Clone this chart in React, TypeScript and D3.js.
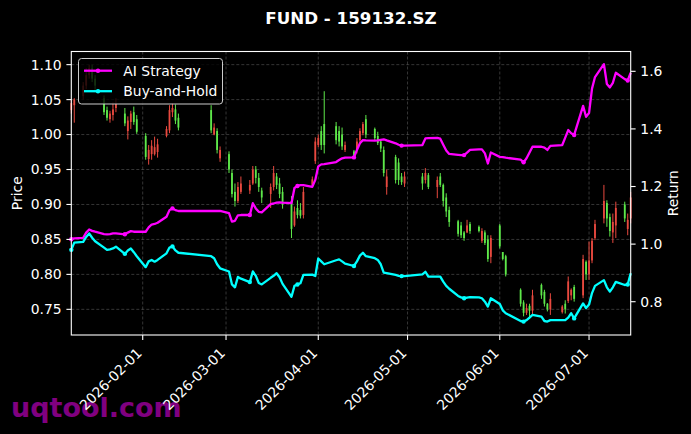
import React from "react";
import * as d3 from "d3";

const dates = [
  "2026-01-08","2026-01-09","2026-01-12","2026-01-13","2026-01-14","2026-01-15","2026-01-16",
  "2026-01-19","2026-01-20","2026-01-21","2026-01-22","2026-01-23",
  "2026-01-26","2026-01-27","2026-01-28","2026-01-29","2026-01-30",
  "2026-02-02","2026-02-03","2026-02-04","2026-02-05","2026-02-06",
  "2026-02-09","2026-02-10","2026-02-11","2026-02-12","2026-02-13",
  "2026-02-24","2026-02-25","2026-02-26","2026-02-27",
  "2026-03-02","2026-03-03","2026-03-04","2026-03-05","2026-03-06",
  "2026-03-09","2026-03-10","2026-03-11","2026-03-12","2026-03-13",
  "2026-03-16","2026-03-17","2026-03-18","2026-03-19","2026-03-20",
  "2026-03-23","2026-03-24","2026-03-25","2026-03-26","2026-03-27",
  "2026-03-30","2026-03-31","2026-04-01","2026-04-02","2026-04-03",
  "2026-04-07","2026-04-08","2026-04-09","2026-04-10",
  "2026-04-13","2026-04-14","2026-04-15","2026-04-16","2026-04-17",
  "2026-04-20","2026-04-21","2026-04-22","2026-04-23","2026-04-24",
  "2026-04-27","2026-04-28","2026-04-29","2026-04-30",
  "2026-05-06","2026-05-07","2026-05-08",
  "2026-05-11","2026-05-12","2026-05-13","2026-05-14","2026-05-15",
  "2026-05-18","2026-05-19","2026-05-20","2026-05-21","2026-05-22",
  "2026-05-25","2026-05-26","2026-05-27","2026-05-28","2026-05-29",
  "2026-06-01","2026-06-02","2026-06-03",
  "2026-06-08","2026-06-09","2026-06-10","2026-06-11","2026-06-12",
  "2026-06-15","2026-06-16","2026-06-17","2026-06-18",
  "2026-06-22","2026-06-23","2026-06-24","2026-06-25","2026-06-26",
  "2026-06-29","2026-06-30","2026-07-01","2026-07-02","2026-07-03",
  "2026-07-06","2026-07-07","2026-07-08","2026-07-09","2026-07-10",
  "2026-07-13","2026-07-14","2026-07-15",
];

const openP = [
  1.035,1.042,1.055,1.070,1.085,1.095,1.080,
  1.052,1.035,1.022,1.028,1.038,
  1.030,1.005,1.018,1.032,1.022,
  0.998,0.965,0.972,0.972,0.975,
  0.998,1.006,1.032,1.036,1.024,
  1.035,1.000,1.005,0.966,
  0.972,0.945,0.918,0.905,0.918,
  0.920,0.930,0.950,0.938,0.920,
  0.915,0.925,0.940,0.930,0.918,
  0.905,0.870,0.895,0.892,0.885,
  0.928,0.962,0.985,1.005,1.015,
  1.012,1.005,1.000,0.978,
  0.976,0.978,0.992,1.002,1.022,
  1.008,0.998,0.990,0.978,0.925,
  0.968,0.960,0.940,0.930,
  0.940,0.935,0.942,
  0.925,0.940,0.928,0.910,0.892,
  0.876,0.870,0.860,0.860,0.872,
  0.868,0.848,0.860,0.850,0.825,
  0.870,0.832,0.826,
  0.778,0.760,0.745,0.755,0.748,
  0.785,0.775,0.758,0.750,
  0.746,0.758,0.762,0.770,0.782,
  0.770,0.818,0.800,0.820,0.852,
  0.880,0.902,0.882,0.860,0.870,
  0.900,0.865,0.880,
];

const highP = [
  1.050,1.052,1.075,1.095,1.100,1.100,1.085,
  1.056,1.040,1.034,1.046,1.052,
  1.038,1.026,1.034,1.040,1.028,
  1.002,0.985,0.992,0.997,0.994,
  1.012,1.042,1.045,1.043,1.030,
  1.042,1.016,1.009,0.983,
  0.976,0.950,0.930,0.932,0.940,
  0.935,0.955,0.955,0.945,0.924,
  0.930,0.955,0.945,0.938,0.925,
  0.912,0.897,0.906,0.902,0.925,
  0.940,0.996,1.000,1.012,1.062,
  1.018,1.012,1.010,0.990,
  0.978,0.995,1.009,1.018,1.028,
  1.010,1.004,0.992,0.983,0.950,
  0.971,0.966,0.945,0.947,
  0.945,0.952,0.945,
  0.940,0.945,0.930,0.916,0.897,
  0.878,0.875,0.862,0.878,0.875,
  0.870,0.866,0.863,0.856,0.856,
  0.872,0.832,0.828,
  0.780,0.763,0.758,0.758,0.778,
  0.787,0.778,0.759,0.773,
  0.756,0.763,0.797,0.780,0.785,
  0.828,0.820,0.847,0.852,0.878,
  0.928,0.906,0.887,0.887,0.904,
  0.904,0.887,0.918,
];

const lowP = [
  1.030,1.017,1.050,1.065,1.080,1.075,1.060,
  1.028,1.020,1.017,1.020,1.032,
  1.012,0.993,1.008,1.014,1.001,
  0.964,0.957,0.964,0.970,0.967,
  0.996,1.002,1.025,1.015,1.006,
  1.002,0.999,0.973,0.961,
  0.945,0.910,0.897,0.902,0.915,
  0.915,0.928,0.930,0.918,0.902,
  0.895,0.920,0.922,0.909,0.894,
  0.852,0.868,0.880,0.880,0.880,
  0.925,0.958,0.982,0.978,0.973,
  0.986,0.983,0.978,0.975,
  0.966,0.973,0.987,0.999,0.995,
  0.992,0.985,0.975,0.940,0.914,
  0.930,0.928,0.928,0.925,
  0.921,0.930,0.922,
  0.909,0.925,0.897,0.882,0.868,
  0.854,0.852,0.848,0.859,0.858,
  0.860,0.845,0.842,0.818,0.816,
  0.837,0.820,0.797,
  0.754,0.740,0.742,0.738,0.742,
  0.765,0.754,0.747,0.742,
  0.744,0.744,0.759,0.763,0.761,
  0.766,0.792,0.792,0.816,0.849,
  0.873,0.868,0.854,0.845,0.852,
  0.875,0.856,0.873,
];

const closeP = [
  1.045,1.050,1.070,1.085,1.095,1.080,1.070,
  1.032,1.024,1.030,1.036,1.044,
  1.016,1.020,1.030,1.018,1.004,
  0.968,0.978,0.984,0.982,0.986,
  1.008,1.035,1.038,1.020,1.010,
  1.006,1.010,0.978,0.978,
  0.950,0.915,0.905,0.925,0.930,
  0.928,0.950,0.938,0.925,0.910,
  0.925,0.945,0.928,0.915,0.900,
  0.865,0.890,0.885,0.884,0.918,
  0.936,0.990,0.995,0.985,0.985,
  0.992,0.990,0.983,0.985,
  0.970,0.990,1.005,1.015,1.000,
  0.995,0.988,0.980,0.945,0.940,
  0.935,0.935,0.932,0.940,
  0.930,0.945,0.925,
  0.935,0.928,0.905,0.890,0.875,
  0.858,0.856,0.852,0.870,0.862,
  0.862,0.862,0.845,0.822,0.852,
  0.840,0.822,0.800,
  0.758,0.745,0.752,0.748,0.770,
  0.770,0.758,0.750,0.765,
  0.754,0.750,0.790,0.778,0.765,
  0.822,0.800,0.820,0.848,0.872,
  0.905,0.880,0.862,0.875,0.895,
  0.880,0.878,0.910,
];

const strategyReturn = [
  1.017,1.020,1.022,1.040,1.051,1.046,1.043,
  1.035,1.034,1.035,1.037,1.037,
  1.034,1.040,1.045,1.043,1.043,
  1.043,1.058,1.068,1.070,1.074,
  1.095,1.118,1.124,1.118,1.115,
  1.115,1.115,1.115,1.115,
  1.108,1.078,1.081,1.100,1.101,
  1.101,1.142,1.124,1.112,1.110,
  1.139,1.141,1.144,1.145,1.144,
  1.142,1.195,1.202,1.205,1.205,
  1.199,1.223,1.270,1.277,1.278,
  1.285,1.292,1.298,1.300,
  1.301,1.327,1.350,1.361,1.360,
  1.359,1.360,1.362,1.364,1.360,
  1.350,1.345,1.342,1.342,
  1.344,1.367,1.368,
  1.369,1.366,1.345,1.325,1.313,
  1.310,1.309,1.309,1.318,1.327,
  1.329,1.329,1.315,1.280,1.318,
  1.303,1.302,1.300,
  1.293,1.284,1.298,1.318,1.338,
  1.338,1.335,1.327,1.341,
  1.344,1.370,1.396,1.385,1.379,
  1.480,1.442,1.455,1.540,1.580,
  1.625,1.556,1.544,1.560,1.595,
  1.573,1.568,1.595,
];

const buyHoldReturn = [
  0.980,1.005,1.008,1.025,1.037,1.022,1.010,
  0.988,0.980,0.982,0.985,0.991,
  0.966,0.978,0.985,0.972,0.958,
  0.920,0.940,0.945,0.939,0.945,
  0.968,0.988,0.992,0.978,0.970,
  0.958,0.951,0.930,0.916,
  0.905,0.860,0.850,0.886,0.880,
  0.868,0.905,0.890,0.865,0.860,
  0.883,0.890,0.899,0.885,0.862,
  0.817,0.855,0.860,0.864,0.893,
  0.894,0.889,0.950,0.940,0.930,
  0.944,0.947,0.940,0.932,
  0.924,0.940,0.960,0.970,0.958,
  0.951,0.945,0.930,0.901,0.899,
  0.893,0.890,0.889,0.889,
  0.895,0.904,0.887,
  0.887,0.887,0.870,0.855,0.845,
  0.820,0.815,0.812,0.814,0.816,
  0.815,0.812,0.800,0.783,0.812,
  0.792,0.770,0.760,
  0.733,0.731,0.736,0.745,0.754,
  0.748,0.733,0.731,0.736,
  0.736,0.736,0.745,0.760,0.742,
  0.794,0.778,0.790,0.830,0.855,
  0.875,0.850,0.835,0.850,0.869,
  0.858,0.860,0.899,
];

const priceTicks = [0.75, 0.8, 0.85, 0.9, 0.95, 1.0, 1.05, 1.1];
const returnTicks = [0.8, 1.0, 1.2, 1.4, 1.6];
const seriesNames = ["AI Strategy", "Buy-and-Hold"];
const titleText = "FUND - 159132.SZ";
const watermarkText = "uqtool.com";

const W = 691;
const H = 434;
const L = 71.3;
const R = 630.7;
const T = 51.5;
const B = 335;
const FONT = "DejaVu Sans, sans-serif";
const FS = 13.9;
const UP = "#e8493f";
const DOWN = "#5ee84a";
const MAGENTA = "#ff00ff";
const CYAN = "#00ffff";

export default function App() {
  const parse = d3.timeParse("%Y-%m-%d");
  const dts = dates.map((d) => parse(d) as Date);
  const x = d3.scaleTime().domain([dts[0], dts[dts.length - 1]]).range([L, R]);
  const yP = d3.scaleLinear().domain([0.7133, 1.1188]).range([B, T]);
  const yR = d3.scaleLinear().domain([0.6844, 1.6688]).range([B, T]);
  const xTicks = x.ticks(d3.timeMonth.every(1) as any);
  const fmt = d3.timeFormat("%Y-%m-%d");
  const bw = 1.8;

  const lineS = d3.line<number>().x((_, i) => x(dts[i])).y((v) => yR(v));
  const series = [
    { name: seriesNames[0], color: MAGENTA, values: strategyReturn },
    { name: seriesNames[1], color: CYAN, values: buyHoldReturn },
  ];

  return (
    <svg width={W} height={H} style={{ position: "absolute", left: 0, top: 0, background: "#000" }} fontFamily={FONT}>
      <rect x={0} y={0} width={W} height={H} fill="#000" />
      {/* grid */}
      <g stroke="#ffffff" strokeOpacity={0.3} strokeWidth={0.7} strokeDasharray="3,2">
        {priceTicks.map((t) => (
          <line key={"gy" + t} x1={L} x2={R} y1={yP(t)} y2={yP(t)} />
        ))}
        {xTicks.map((t, i) => (
          <line key={"gx" + i} x1={x(t)} x2={x(t)} y1={T} y2={B} />
        ))}
      </g>
      {/* candles */}
      <g>
        {dts.map((d, i) => {
          const o = openP[i], c = closeP[i];
          const col = c >= o ? UP : DOWN;
          const cx = x(d);
          const top = yP(Math.max(o, c));
          const h = Math.max(1, Math.abs(yP(o) - yP(c)));
          return (
            <g key={"c" + i}>
              <line x1={cx} x2={cx} y1={yP(highP[i])} y2={yP(lowP[i])} stroke={col} strokeWidth={1} />
              <rect x={cx - bw / 2} y={top} width={bw} height={h} fill={col} />
            </g>
          );
        })}
      </g>
      {/* return lines */}
      {series.map((s) => (
        <g key={s.name}>
          <path d={lineS(s.values) || ""} fill="none" stroke={s.color} strokeWidth={2.3} strokeLinejoin="round" />
          {s.values.map((v, i) =>
            i % 12 === 0 ? <circle key={i} cx={x(dts[i])} cy={yR(v)} r={2.2} fill={s.color} /> : null
          )}
        </g>
      ))}
      {/* frame */}
      <rect x={L} y={T} width={R - L} height={B - T} fill="none" stroke="#fff" strokeWidth={1.1} />
      {/* left axis */}
      {priceTicks.map((t) => (
        <g key={"lt" + t}>
          <line x1={L - 4.9} x2={L} y1={yP(t)} y2={yP(t)} stroke="#fff" strokeWidth={1.1} />
          <text x={L - 9.6} y={yP(t) + 4.9} fill="#fff" fontSize={FS} textAnchor="end">{t.toFixed(2)}</text>
        </g>
      ))}
      {/* right axis */}
      {returnTicks.map((t) => (
        <g key={"rt" + t}>
          <line x1={R} x2={R + 4.9} y1={yR(t)} y2={yR(t)} stroke="#fff" strokeWidth={1.1} />
          <text x={R + 9.6} y={yR(t) + 4.9} fill="#fff" fontSize={FS} textAnchor="start">{t.toFixed(1)}</text>
        </g>
      ))}
      {/* watermark */}
      <text x={11} y={416.5} fill="#800080" fontSize={27} fontWeight="bold">{watermarkText}</text>
      {/* x axis */}
      {xTicks.map((t, i) => (
        <g key={"xt" + i}>
          <line x1={x(t)} x2={x(t)} y1={B} y2={B + 4.9} stroke="#fff" strokeWidth={1.1} />
          <text
            transform={`translate(${x(t)},${B + 19}) rotate(-45)`}
            fill="#fff"
            fontSize={FS}
            textAnchor="end"
          >
            {fmt(t)}
          </text>
        </g>
      ))}
      {/* axis labels */}
      <text transform={`translate(22,${(T + B) / 2}) rotate(-90)`} fill="#fff" fontSize={FS} textAnchor="middle">Price</text>
      <text transform={`translate(678,${(T + B) / 2}) rotate(-90)`} fill="#fff" fontSize={FS} textAnchor="middle">Return</text>
      {/* title */}
      <text x={(L + R) / 2} y={24} fill="#fff" fontSize={16.7} fontWeight="bold" textAnchor="middle">{titleText}</text>
      {/* legend */}
      <g>
        <rect x={78.5} y={58.5} width={144} height={45.5} rx={3} fill="#000" fillOpacity={0.8} stroke="#cccccc" strokeWidth={1} />
        {series.map((s, i) => {
          const cy = 70.7 + i * 20.5;
          return (
            <g key={"lg" + i}>
              <line x1={84} x2={112} y1={cy} y2={cy} stroke={s.color} strokeWidth={2.3} />
              <circle cx={98} cy={cy} r={2.2} fill={s.color} />
              <text x={123.3} y={cy + 5} fill="#fff" fontSize={FS}>{s.name}</text>
            </g>
          );
        })}
      </g>
    </svg>
  );
}
